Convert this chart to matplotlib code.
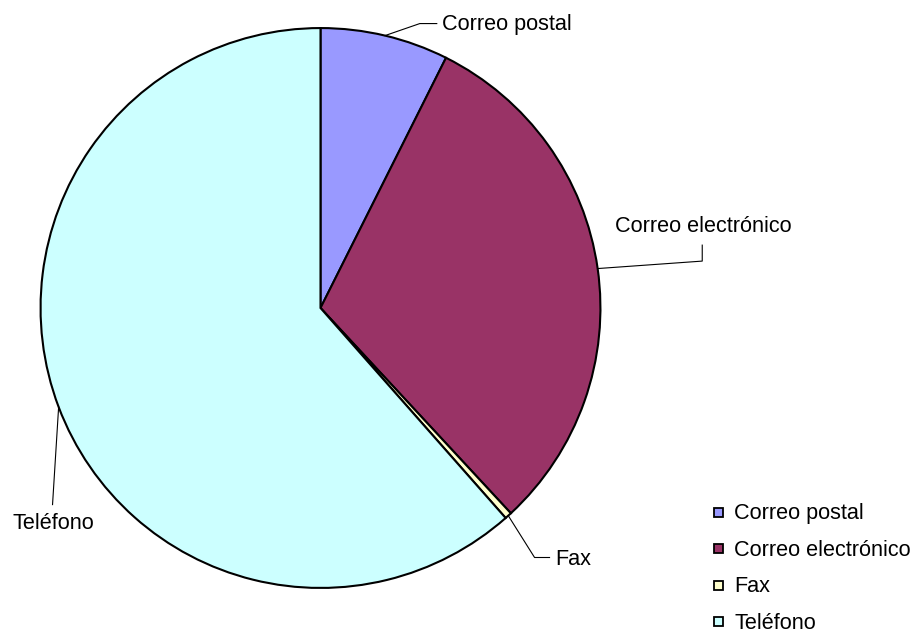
import numpy as np
import matplotlib; matplotlib.use("Agg")
import matplotlib.pyplot as plt
from matplotlib.patches import Rectangle

labels=["Correo postal","Correo electrónico","Fax","Teléfono"]
values=[7.4,30.7,0.4,61.5]
colors=["#9999ff","#993366","#ffffcc","#ccffff"]

W,H=913,635
CX,CY,R=320.5,308,280.5   # pie centre / radius in pixels (y from top)
FONT="Liberation Sans"; FS=15.6

def fx(px): return px/W
def fy(py): return 1-py/H

fig=plt.figure(figsize=(W/100,H/100),dpi=100)
ax=fig.add_axes([fx(CX-R),fy(CY+R),2*R/W,2*R/H])
wedges,_=ax.pie(values,colors=colors,startangle=90,counterclock=False,
                wedgeprops=dict(edgecolor="black",linewidth=1.5))
ax.set_xlim(-1.002,1.002); ax.set_ylim(-1.002,1.002); ax.set_aspect("auto"); ax.axis("off")

def topx(px,py): return ((px-CX)/R,(CY-py)/R)

# data labels with leader lines: (elbow points in px, text pos, ha)
lay={"Correo postal":([(420,23),(437,23)],(442,30),"left"),
     "Correo electrónico":([(703,261),(703,245)],(615,232),"left"),
     "Fax":([(535,558),(550,558)],(555,565),"left"),
     "Teléfono":([(52,505)],(12,529),"left")}
for w,lab in zip(wedges,labels):
    a=np.radians((w.theta1+w.theta2)/2)
    pts=[(np.cos(a),np.sin(a))]+[topx(*p) for p in lay[lab][0]]
    xs,ys=zip(*pts)
    ax.plot(xs,ys,color="black",lw=0.8,clip_on=False)
    tx,ty=lay[lab][1]
    fig.text(fx(tx),fy(ty),lab,ha=lay[lab][2],va="baseline",fontsize=FS,family=FONT)

# legend
for i,(lab,col) in enumerate(zip(labels,colors)):
    yc=512+36.5*i
    fig.patches.append(Rectangle((fx(713.5),fy(yc+4.5)),9/W,9/H,transform=fig.transFigure,
                                 facecolor=col,edgecolor="black",lw=1.3))
    fig.text(fx(734),fy(yc+7.5),lab,ha="left",va="baseline",fontsize=FS,family=FONT)

fig.savefig("out.png",dpi=100)
